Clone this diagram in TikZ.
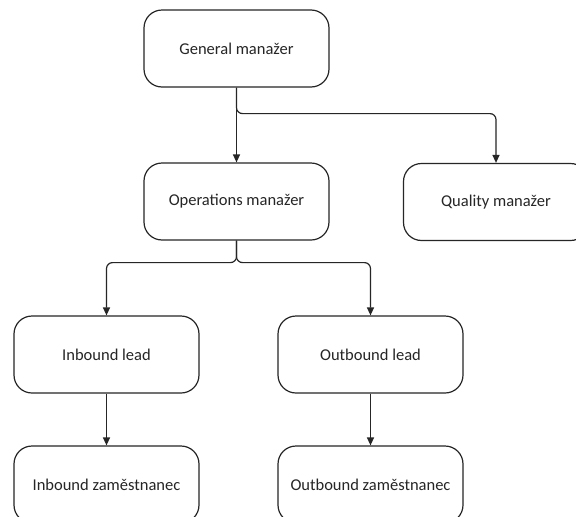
\documentclass[tikz,border=0pt]{standalone}
\usepackage{fontspec}
\setmainfont{Carlito}
\usetikzlibrary{arrows.meta}
\tikzset{
  role/.style={draw=black!85, line width=1.2pt, rounded corners=18pt,
    minimum width=185pt, minimum height=77pt, inner sep=0pt,
    font=\fontsize{16.5}{20}\selectfont, text=black!85},
  link/.style={draw=black!85, line width=1.2pt, rounded corners=6pt,
    -{Triangle[length=8pt,width=7pt]}}
}
\begin{document}
\begin{tikzpicture}[x=1pt,y=-1pt]
  \useasboundingbox (0,0) rectangle (576,517);
  \clip (0,0) rectangle (576,517);
  \fill[white] (0,0) rectangle (576,517);

  \node[role] (gm) at (236.5,48.5) {General manažer};
  \node[role] (om) at (236.5,201.5) {Operations manažer};
  \node[role] (qm) at (496,202) {Quality manažer};
  \node[role] (il) at (106.5,354.5) {Inbound lead};
  \node[role] (ol) at (370.5,354.5) {Outbound lead};
  \node[role] (iz) at (106.5,484.5) {Inbound zaměstnanec};
  \node[role] (oz) at (370.5,484.5) {Outbound zaměstnanec};

  \draw[link] (gm.south) -- (om.north);
  \draw[link] (gm.south) -- ++(0,26) -| (qm.north);
  \draw[link] (om.south) -- ++(0,22) -| (il.north);
  \draw[link] (om.south) -- ++(0,22) -| (ol.north);
  \draw[link] (il.south) -- (iz.north);
  \draw[link] (ol.south) -- (oz.north);
\end{tikzpicture}
\end{document}
